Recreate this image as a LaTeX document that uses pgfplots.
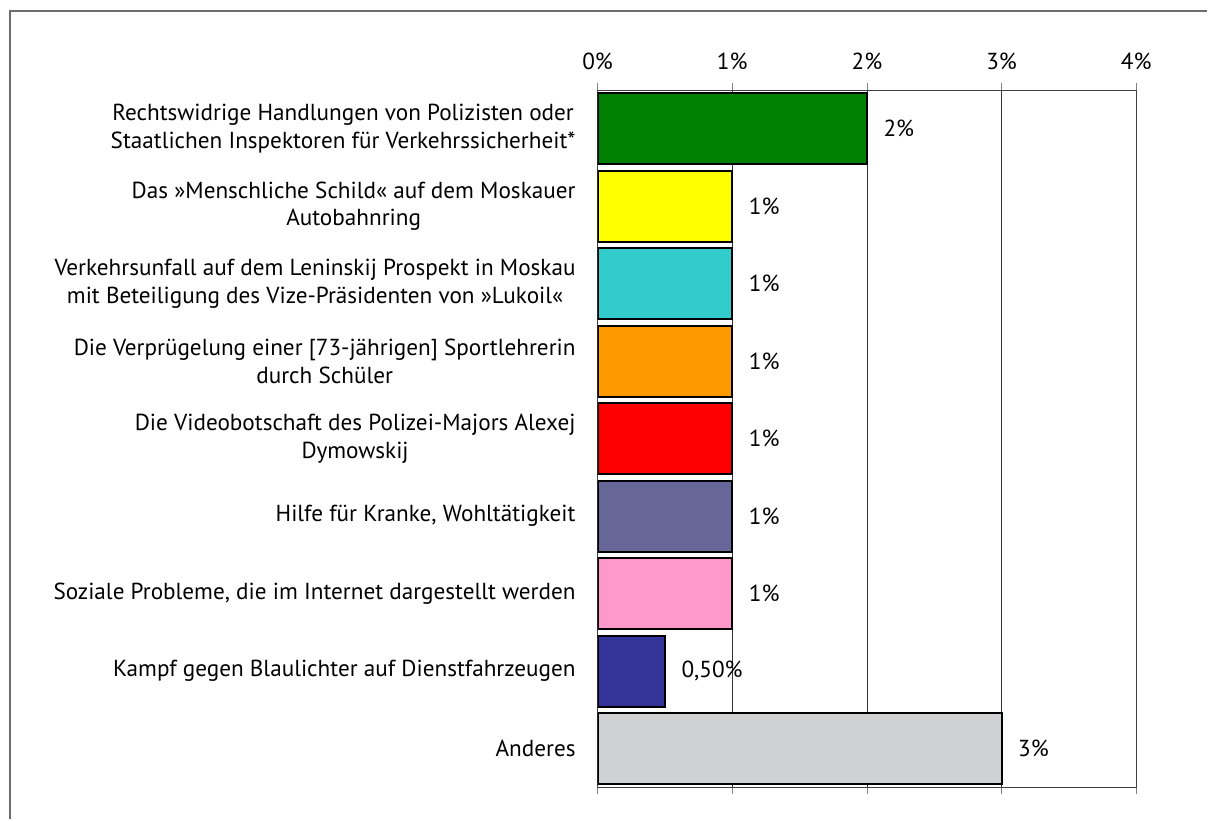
\documentclass[border=0pt]{standalone}
\usepackage{fontspec}
\setmainfont{PT Sans}
\usepackage{pgfplots}
\pgfplotsset{compat=1.18}

\definecolor{cGreen}{HTML}{008000}
\definecolor{cYellow}{HTML}{FFFF00}
\definecolor{cTurq}{HTML}{33CCCC}
\definecolor{cOrange}{HTML}{FF9900}
\definecolor{cRed}{HTML}{FF0000}
\definecolor{cSlate}{HTML}{666699}
\definecolor{cPink}{HTML}{FF99CC}
\definecolor{cNavy}{HTML}{333399}
\definecolor{cGray}{HTML}{D0D1D3}
\definecolor{frame}{HTML}{6E6E6E}

\begin{document}
\begin{tikzpicture}[x=1pt,y=1pt]
\begin{axis}[
    scale only axis,
    width=269.5pt, height=349pt,
    xbar, bar width=0.915,
    xmin=0, xmax=4,
    ymin=-0.5, ymax=8.5,
    y dir=reverse,
    font=\fontsize{11.6}{13.75}\selectfont,
    axis line style={black!75},
    xtick={0,1,2,3,4},
    xticklabels={0\%,1\%,2\%,3\%,4\%},
    xticklabel pos=upper,
    xtick pos=both,
    tick align=outside,
    major tick length=3.5pt,
    xticklabel style={yshift=3pt},
    xmajorgrids,
    major grid style={black!80, line width=0.4pt},
    ytick={0,...,8},
    ytick pos=left,
    ytick style={draw=none},
    minor ytick={-0.5,0.5,...,8.5},
    minor tick length=4pt,
    minor tick style={black!75},
    yticklabel style={align=center, xshift=-4pt},
    yticklabels={
        {Rechtswidrige Handlungen von Polizisten oder\\Staatlichen Inspektoren für Verkehrssicherheit*},
        {Das »Menschliche Schild« auf dem Moskauer\\Autobahnring},
        {Verkehrsunfall auf dem Leninskij Prospekt in Moskau\\mit Beteiligung des Vize-Präsidenten von »Lukoil«},
        {Die Verprügelung einer [73-jährigen] Sportlehrerin\\durch Schüler},
        {Die Videobotschaft des Polizei-Majors Alexej\\Dymowskij},
        {Hilfe für Kranke, Wohltätigkeit},
        {Soziale Probleme, die im Internet dargestellt werden},
        {Kampf gegen Blaulichter auf Dienstfahrzeugen},
        {Anderes}
    },
    nodes near coords,
    point meta=explicit symbolic,
    every node near coord/.append style={anchor=west, xshift=4.5pt, font=\fontsize{11.6}{13.75}\selectfont},
    every axis plot/.append style={draw=black, line width=1pt, bar shift=0pt},
]
\addplot[fill=cGreen]  coordinates {(2,0) [2\%]};
\addplot[fill=cYellow] coordinates {(1,1) [1\%]};
\addplot[fill=cTurq]   coordinates {(1,2) [1\%]};
\addplot[fill=cOrange] coordinates {(1,3) [1\%]};
\addplot[fill=cRed]    coordinates {(1,4) [1\%]};
\addplot[fill=cSlate]  coordinates {(1,5) [1\%]};
\addplot[fill=cPink]   coordinates {(1,6) [1\%]};
\addplot[fill=cNavy]   coordinates {(0.5,7) [0,50\%]};
\addplot[fill=cGray]   coordinates {(3,8) [3\%]};
\end{axis}
% page extent and the outer frame, cut off at right and bottom
\path (-299,-16) rectangle (305,394);
\draw[line width=0.8pt, frame] (-294,-16) -- (-294,388.5) -- (305,388.5);
\end{tikzpicture}
\end{document}
